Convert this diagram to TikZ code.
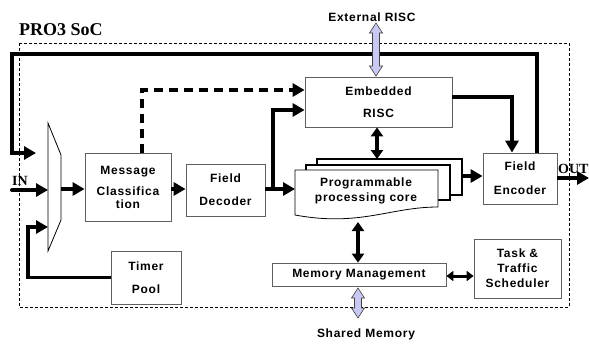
\documentclass[tikz,border=0pt]{standalone}
\usepackage{fontspec}
\setmainfont{Liberation Serif}
\newfontfamily\labfont[LetterSpace=6]{Liberation Sans}
\usetikzlibrary{arrows.meta}
\definecolor{lav}{RGB}{200,200,242}
\definecolor{boxline}{RGB}{95,95,95}
\newcommand\lavarrow[3]{%
  \draw[draw=black!75, line width=0.6pt, fill=lav, line join=miter]
    (#1,#2) -- (#1+6.5,#2+10) -- (#1+3.5,#2+10) -- (#1+3.5,#3-10) -- (#1+6.5,#3-10)
    -- (#1,#3) -- (#1-6.5,#3-10) -- (#1-3.5,#3-10) -- (#1-3.5,#2+10) -- (#1-6.5,#2+10) -- cycle;}
\begin{document}
\begin{tikzpicture}[x=1pt,y=-1pt,
  lab/.style={font=\labfont\bfseries\fontsize{12}{15}\selectfont},
  box/.style={draw=boxline, line width=0.8pt, fill=white, inner sep=0pt, align=center, lab},
  serif/.style={font=\rmfamily\bfseries\fontsize{14}{16}\selectfont, inner sep=0pt},
  wire/.style={line width=3.5pt, -{Triangle[length=12pt,width=13pt]}},
  dwire/.style={line width=3.5pt, {Triangle[length=9pt,width=12pt]}-{Triangle[length=9pt,width=12pt]}},
  swire/.style={line width=3pt, {Triangle[length=7pt,width=10pt]}-{Triangle[length=7pt,width=10pt]}},
  dashwire/.style={line width=3.5pt, dash pattern=on 9pt off 6pt, -{Triangle[length=12pt,width=13pt]}},
]
\useasboundingbox (0,0) rectangle (589,343);
\fill[white] (0,0) rectangle (589,343);

% SoC boundary
\draw[line width=0.7pt, dash pattern=on 3pt off 2pt] (19,43) rectangle (569,307);
\node[anchor=base west, inner sep=0pt, font=\rmfamily\bfseries\fontsize{18}{20}\selectfont] (title) at (19,35) {PRO3 SoC};

% boxes
\node[box, minimum width=86pt, minimum height=68pt] (msg) at (128,187) {Message\\[6pt]Classifica\\[-2pt]tion};
\node[box, minimum width=79pt, minimum height=52pt] (fdec) at (225.5,190) {Field\\[8pt]Decoder};
\node[box, minimum width=70pt, minimum height=53pt] (timer) at (146,277.5) {Timer\\[8pt]Pool};
\node[box, minimum width=147pt, minimum height=50pt] (erisc) at (378.5,102) {Embedded\\[7pt]RISC};
\node[box, minimum width=74pt, minimum height=51pt] (fenc) at (520,178.5) {Field\\[9pt]Encoder};
\node[box, minimum width=174pt, minimum height=23pt] (mem) at (359,274.5) {Memory Management};
\node[box, minimum width=87pt, minimum height=59pt] (task) at (517.5,268.5) {Task \&\\Traffic\\Scheduler};

% mux
\draw[line width=0.8pt, fill=white] (48,123) -- (61,155) -- (61,220) -- (48,251) -- cycle;
\coordinate (muxin) at (48,190);
\coordinate (muxlow) at (48,227);
\coordinate (muxout) at (61,189);

% programmable core stack
\draw[line width=1.3pt, fill=white] (317,159) rectangle (462,195);
\draw[line width=1.3pt, fill=white] (306,165) rectangle (450,200);
\draw[line width=0.8pt, fill=white] (295,170) -- (438,170) -- (438,207)
   .. controls (390,207) and (360,227) .. (295,215) -- cycle;
\node[lab, align=center] (core) at (366,191) {Programmable\\processing core};
\coordinate (coreback) at (377,159);
\coordinate (coreright) at (462,176);
\coordinate (coreleft) at (295,189);
\coordinate (corebot) at (358,222);

% IN / OUT
\coordinate (inL) at (12,190);
\fill (inL) circle (2pt);
\node[serif, anchor=base west] (inlab) at (12,185) {IN};
\coordinate (outR) at (589,178);
\node[serif, anchor=base west] (outlab) at (558,173) {OUT};

% connectors
\draw[wire] (inL) -- (muxin);
\draw[wire] (muxout) -- (msg.west |- muxout);
\draw[wire] (msg.east |- muxout) -- (fdec.west |- muxout);
\coordinate (fdout) at (fdec.east |- muxout);
\coordinate (branch) at (273,189);
\draw[wire] (fdout) -- (coreleft);
\draw[wire] (branch) |- (erisc.west |- 0,110);
\draw[dashwire] (142,153) |- (erisc.west |- 0,90);
\draw[wire] (erisc.east |- 0,97) -| (fenc.north -| 512,0);
\draw[dwire] (erisc.south -| coreback) -- (coreback);
\draw[wire] (coreright) -- (fenc.west |- coreright);
\draw[wire] (fenc.east |- outR) -- (outR);
\draw[dwire] (corebot) -- (mem.north -| corebot);
\draw[swire] (mem.east |- 0,276) -- (task.west |- 0,276);
\draw[wire] (timer.west) -| (28,227) -- (muxlow);
\draw[wire] (fenc.north -| 537,0) |- (12,54) |- (36,153);

% external links
\lavarrow{376}{23}{76}
\node[lab, anchor=base] (extlab) at (372,21) {External RISC};
\lavarrow{358}{288}{318}
\node[lab, anchor=base] (shlab) at (366,337) {Shared Memory};
\end{tikzpicture}
\end{document}
